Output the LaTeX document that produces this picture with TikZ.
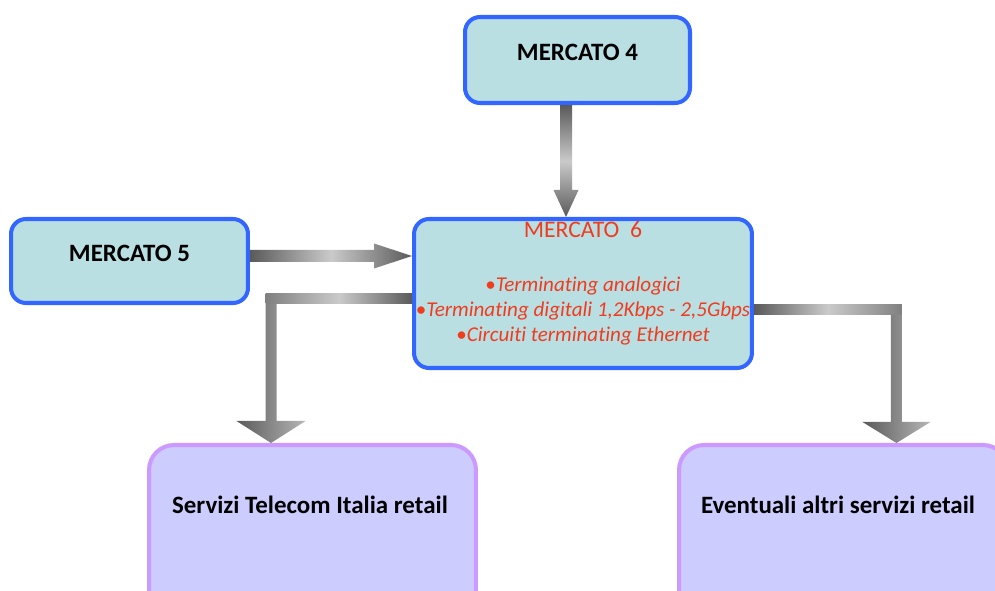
\documentclass[tikz,border=0pt]{standalone}
\usepackage{fontspec}
\setmainfont{Carlito}[Ligatures={NoCommon}]
\usepackage{tikz}
\usetikzlibrary{calc}
\definecolor{boxcyan}{HTML}{B9DFE3}
\definecolor{boxblue}{HTML}{3366FF}
\definecolor{boxlilac}{HTML}{CCCCFF}
\definecolor{edgelilac}{HTML}{CC99FF}
\definecolor{txtred}{HTML}{F03C1E}
\definecolor{arrdark}{HTML}{5A5A5A}
\definecolor{arrlight}{HTML}{CACACA}
\tikzset{mercato/.style={draw=boxblue, fill=boxcyan, line width=2.3pt,
    rounded corners=0.3cm, inner sep=0pt}}
\tikzset{retail/.style={draw=edgelilac, fill=boxlilac, line width=2.3pt,
    rounded corners=0.5cm, inner sep=0pt}}
\tikzset{boldtxt/.style={font=\fontsize{14.2}{16}\selectfont\bfseries, inner sep=0pt}}
\tikzset{redtxt/.style={text=txtred, inner sep=0pt}}
\tikzset{gradv/.style={top color=arrdark, bottom color=arrdark, middle color=arrlight}}
\tikzset{gradh/.style={left color=arrdark, right color=arrdark, middle color=arrlight}}
\tikzset{gradhead/.style={left color=arrdark, right color=arrlight!90!black}}
\newcommand{\bul}{{\upshape\textbullet}}

\begin{document}
\begin{tikzpicture}[x=0.02cm, y=-0.02cm]
      \useasboundingbox (0,0) rectangle (995,591);
      \clip (0,0) rectangle (995,591);

      \draw
      (577.5,60) node [mercato, minimum width=4.5cm, minimum height=1.72cm] (m4) {}
      (129.5,261) node [mercato, minimum width=4.74cm, minimum height=1.68cm] (m5) {}
      (583,293.5) node [mercato, minimum width=6.76cm, minimum height=2.98cm] (m6) {}
      (312.5,532.5) node [retail, minimum width=6.54cm, minimum height=3.5cm] (serv) {}
      (843.5,532.5) node [retail, minimum width=6.58cm, minimum height=3.5cm] (evt) {};

      % box texts
      \node [boldtxt] (m4txt) at ([yshift=0.16cm]m4.center) {MERCATO 4};
      \node [boldtxt] (m5txt) at ([yshift=0.16cm]m5.center) {MERCATO 5};
      \node [redtxt, font=\fontsize{13.5}{15}\selectfont] (m6txt)
        at ([yshift=-0.25cm]m6.north) {MERCATO\ \ 6};
      \node [redtxt, align=center, font=\fontsize{12}{14.2}\selectfont\itshape] (m6list)
        at ([yshift=-0.35cm]m6.center)
        {\bul Terminating analogici\\
         \bul Terminating digitali 1,2Kbps - 2,5Gbps\\
         \bul Circuiti terminating Ethernet};
      \node [boldtxt] (servtxt) at ([xshift=-0.05cm, yshift=0.55cm]serv.center) {Servizi Telecom Italia retail};
      \node [boldtxt] (evttxt) at ([xshift=-0.11cm, yshift=0.55cm]evt.center) {Eventuali altri servizi retail};

      % MERCATO 4 -> MERCATO 6
      \coordinate (a4s) at ([xshift=-0.23cm]m4.south);
      \coordinate (a4e) at (a4s |- m6.north);
      \shade [gradv] ($(a4s)+(-6,0)$) -- ($(a4s)+(6,0)$) -- ($(a4e)+(6,-27)$)
        -- ($(a4e)+(12.5,-27)$) -- (a4e) -- ($(a4e)+(-12.5,-27)$)
        -- ($(a4e)+(-6,-27)$) -- cycle;

      % MERCATO 5 -> MERCATO 6
      \coordinate (a5s) at ([yshift=0.1cm]m5.east);
      \coordinate (a5e) at (a5s -| m6.west);
      \shade [gradh] ($(a5s)+(0,-6)$) -- ($(a5e)+(-38,-6)$) -- ($(a5e)+(-38,-12.5)$)
        -- (a5e) -- ($(a5e)+(-38,12.5)$) -- ($(a5e)+(-38,6)$) -- ($(a5s)+(0,6)$) -- cycle;

      % MERCATO 6 -> Servizi Telecom Italia retail
      \coordinate (b1s) at ([yshift=-0.11cm]m6.west);
      \coordinate (b1e) at ([xshift=-0.83cm]serv.north);
      \coordinate (b1c) at (b1e |- b1s);
      \shade [left color=gray, right color=arrdark, middle color=arrlight]
        ($(b1s)+(0,-5)$) -- ($(b1c)+(-5.5,-5)$) -- ($(b1c)+(-5.5,5)$) -- ($(b1s)+(0,5)$) -- cycle;
      \shade [gradhead] ($(b1c)+(-5.5,5)$) -- ($(b1e)+(-5.5,-22)$) -- ($(b1e)+(-34.5,-22)$)
        -- (b1e) -- ($(b1e)+(34.5,-22)$) -- ($(b1e)+(5.5,-22)$) -- ($(b1c)+(5.5,5)$) -- cycle;

      % MERCATO 6 -> Eventuali altri servizi retail
      \coordinate (b2s) at ([yshift=-0.33cm]m6.east);
      \coordinate (b2e) at ([xshift=1.06cm]evt.north);
      \coordinate (b2c) at (b2e |- b2s);
      \shade [left color=arrdark, right color=gray, middle color=arrlight]
        ($(b2s)+(0,-5)$) -- ($(b2c)+(5.5,-5)$) -- ($(b2c)+(5.5,5)$) -- ($(b2s)+(0,5)$) -- cycle;
      \shade [gradhead] ($(b2c)+(-5.5,5)$) -- ($(b2e)+(-5.5,-21)$) -- ($(b2e)+(-34,-21)$)
        -- (b2e) -- ($(b2e)+(34,-21)$) -- ($(b2e)+(5.5,-21)$) -- ($(b2c)+(5.5,5)$) -- cycle;
    \end{tikzpicture}
\end{document}
